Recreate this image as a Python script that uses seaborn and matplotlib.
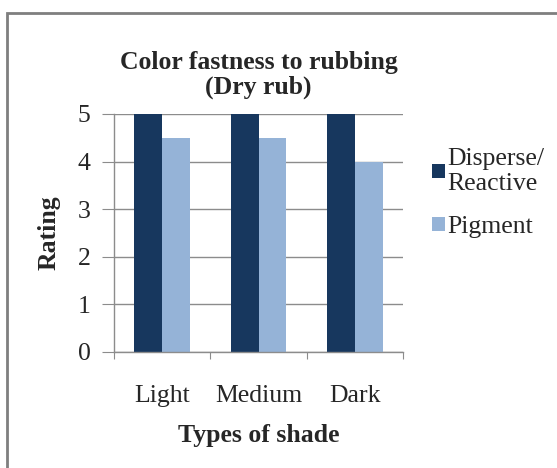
import numpy as np
import pandas as pd
import seaborn as sns
import matplotlib
matplotlib.use('Agg')
import matplotlib.pyplot as plt
from matplotlib.patches import Rectangle, Patch

# 数据
shades = ['Light', 'Medium', 'Dark']
disperse_reactive = [5, 5, 5]
pigment = [4.5, 4.5, 4]
series_names = ['Disperse/\nReactive', 'Pigment']
colors = ['#17375E', '#95B3D7']

df = pd.DataFrame({
    'shade': shades * 2,
    'rating': disperse_reactive + pigment,
    'series': [series_names[0]] * 3 + [series_names[1]] * 3,
})

sns.set_style('white')
plt.rcParams['font.family'] = ['Liberation Serif', 'DejaVu Serif']

fig = plt.figure(figsize=(5.57, 4.68), dpi=100)
ax = fig.add_axes([114 / 557, 1 - 352 / 468, 289 / 557, 238 / 468])

sns.barplot(data=df, x='shade', y='rating', hue='series', palette=colors,
            width=0.58, ax=ax, legend=False, saturation=1, linewidth=0)

ax.set_ylim(0, 5)
ax.set_xlim(-0.5, 2.5)
ax.set_yticks(range(6))
ax.yaxis.grid(True, color='#8c8c8c', linewidth=1)
ax.set_axisbelow(True)
for s in ['top', 'right']:
    ax.spines[s].set_visible(False)
for s in ['left', 'bottom']:
    ax.spines[s].set_color('#8c8c8c')
    ax.spines[s].set_linewidth(1)

ax.set_xticks([-0.5, 0.5, 1.5, 2.5], minor=False)
ax.set_xticklabels([])
ax.set_xticks([0, 1, 2], minor=True)
ax.set_xticklabels(shades, minor=True, fontsize=18.5)
ax.tick_params(axis='x', which='major', length=5, color='#8c8c8c', direction='out', bottom=True)
ax.tick_params(axis='x', which='minor', length=0, pad=24)
ax.tick_params(axis='y', length=9, color='#8c8c8c', direction='out', left=True, labelsize=18.5, pad=8)

ax.set_xlabel('Types of shade', fontsize=18.5, fontweight='bold', labelpad=12)
ax.set_ylabel('Rating', fontsize=18.5, fontweight='bold', labelpad=12)
ax.set_title('Color fastness to rubbing\n(Dry rub)', fontsize=18.5, fontweight='bold',
             linespacing=1.05, pad=15)

handles = [Patch(facecolor=c, edgecolor='none') for c in colors]
fig.legend(handles, series_names, loc='upper left', bbox_to_anchor=(432 / 557, 1 - 148 / 468),
           frameon=False, fontsize=18.5, handlelength=0.5, handleheight=0.5,
           handletextpad=0.1, labelspacing=0.8, borderaxespad=0, borderpad=0)

# 外框
fig.patches.append(Rectangle((7 / 557, -0.1), 1.2, 1 - 13 / 468 + 0.1, transform=fig.transFigure,
                             fill=False, edgecolor='#7f7f7f', linewidth=2))

plt.savefig('out.png', dpi=100)
plt.close()
